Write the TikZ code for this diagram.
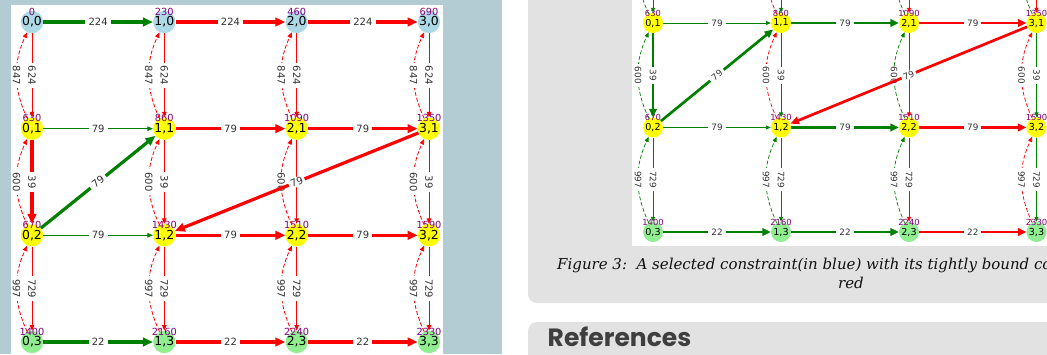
\documentclass[tikz,border=0pt]{standalone}
\usepackage{fontspec}
\usetikzlibrary{arrows.meta}
\newfontfamily\djv{DejaVu Sans}
\newfontfamily\capfont{DejaVu Serif}
\newfontfamily\popfont{Poppins}
\definecolor{bgblue}{HTML}{B3CCD3}
\definecolor{panelgray}{HTML}{E2E2E2}
\definecolor{nblue}{HTML}{ADD8E6}
\definecolor{nyellow}{HTML}{FFFF00}
\definecolor{ngreen}{HTML}{90EE90}
\definecolor{vpurple}{HTML}{800080}
\definecolor{egreen}{HTML}{008000}
\definecolor{ered}{HTML}{FF0000}
\definecolor{labgray}{HTML}{333333}
\definecolor{refgray}{HTML}{3F3F3F}
\definecolor{captext}{HTML}{111111}
\tikzset{
  lnode/.style={circle, minimum size=22pt, inner sep=0pt, draw=none, text=black, font=\djv\fontsize{12.4}{12.4}\selectfont},
  rnode/.style={circle, minimum size=20pt, inner sep=0pt, draw=none, text=black, font=\djv\fontsize{9.6}{9.6}\selectfont},
  lval/.style={inner sep=0pt, text=vpurple, font=\djv\fontsize{9.8}{9.8}\selectfont},
  rval/.style={inner sep=0pt, text=vpurple, font=\djv\fontsize{8.4}{8.4}\selectfont},
  llab/.style={fill=white, inner xsep=3.2pt, inner ysep=1.5pt, text=labgray, font=\djv\fontsize{10}{10}\selectfont},
  rlab/.style={fill=white, inner xsep=3pt, inner ysep=1.2pt, text=labgray, font=\djv\fontsize{8.8}{8.8}\selectfont},
  bigtip/.style={-{Triangle[length=10pt,width=8.5pt]}},
  smalltip/.style={-{Triangle[length=5.5pt,width=4.5pt]}},
  thickG/.style={draw=egreen, line width=3.2pt, bigtip},
  thickR/.style={draw=ered, line width=3.2pt, bigtip},
  thinG/.style={draw=egreen, line width=1pt, smalltip},
  thinR/.style={draw=ered, line width=1pt, smalltip},
  rthickG/.style={draw=egreen, line width=2.7pt, -{Triangle[length=8.5pt,width=7.5pt]}},
  rthickR/.style={draw=ered, line width=2.7pt, -{Triangle[length=8.5pt,width=7.5pt]}},
  rthinG/.style={draw=egreen, line width=0.9pt, -{Triangle[length=5pt,width=4pt]}},
  rthinR/.style={draw=ered, line width=0.9pt, -{Triangle[length=5pt,width=4pt]}},
  dashR/.style={draw=ered, line width=0.8pt, dash pattern=on 4pt off 2pt, smalltip},
  dashG/.style={draw=egreen, line width=0.8pt, dash pattern=on 4pt off 2pt, smalltip},
  rdashR/.style={draw=ered, line width=0.7pt, dash pattern=on 4pt off 2pt, -{Triangle[length=5pt,width=4pt]}},
  rdashG/.style={draw=egreen, line width=0.7pt, dash pattern=on 4pt off 2pt, -{Triangle[length=5pt,width=4pt]}},
}
\begin{document}
\begin{tikzpicture}[x=1pt,y=-1pt]
\useasboundingbox (0,0) rectangle (1047,354);
\clip (0,0) rectangle (1047,354);
% backgrounds
\fill[white] (0,0) rectangle (1047,354);
\fill[bgblue] (0,0) rectangle (502,354);
\fill[white] (11,5) rectangle (443,360);
\fill[panelgray, rounded corners=9pt] (528,-20) rectangle (1070,303);
\fill[panelgray, rounded corners=9pt] (528,322) rectangle (1070,380);
\fill[white] (632,-5) rectangle (1060,246);

% ---------------- left graph ----------------
\foreach \c/\x in {0/32,1/164.3,2/296.7,3/429}{
  \node[lnode, fill=nblue]   (L\c0) at (\x,22)    {\c,0};
  \node[lnode, fill=nyellow] (L\c1) at (\x,128.7) {\c,1};
  \node[lnode, fill=nyellow] (L\c2) at (\x,235.3) {\c,2};
  \node[lnode, fill=ngreen]  (L\c3) at (\x,342)   {\c,3};
}
\foreach \n/\v in {L00/0,L10/230,L20/460,L30/690,L01/630,L11/860,L21/1090,L31/1350,
                   L02/670,L12/1430,L22/1510,L32/1590,L03/1400,L13/2160,L23/2240,L33/2330}
  \node[lval] (v\n) at ([yshift=10.5pt]\n.center) {\v};

% horizontal
\draw[thickG] (L00) -- node[llab]{224} (L10);
\draw[thickR] (L10) -- node[llab]{224} (L20);
\draw[thickR] (L20) -- node[llab]{224} (L30);
\draw[thinG]  (L01) -- node[llab]{79} (L11);
\draw[thickR] (L11) -- node[llab]{79} (L21);
\draw[thickR] (L21) -- node[llab]{79} (L31);
\draw[thinG]  (L02) -- node[llab]{79} (L12);
\draw[thickR] (L12) -- node[llab]{79} (L22);
\draw[thickR] (L22) -- node[llab]{79} (L32);
\draw[thickG] (L03) -- node[llab]{22} (L13);
\draw[thickR] (L13) -- node[llab]{22} (L23);
\draw[thickR] (L23) -- node[llab]{22} (L33);
% vertical + curved
\foreach \c in {0,1,2,3}{
  \draw[thinR] (L\c0) -- node[llab, rotate=-90]{624} (L\c1);
  \draw[thinR] (L\c2) -- node[llab, rotate=-90]{729} (L\c3);
  \draw[dashR] (L\c1) to[bend left=25] node[llab, rotate=-90]{847} (L\c0);
  \draw[dashR] (L\c3) to[bend left=25] node[llab, rotate=-90]{997} (L\c2);
}
\foreach \c in {0,1,3}
  \draw[dashR] (L\c2) to[bend left=25] node[llab, rotate=-90]{600} (L\c1);
\draw[dashR] (L22) to[bend left=25] node[llab, rotate=-90, inner sep=0.5pt]{600} (L21);
\draw[thickR] (L01) -- node[llab, rotate=-90]{39} (L02);
\draw[thinR]  (L11) -- node[llab, rotate=-90]{39} (L12);
\draw[thinR]  (L21) -- (L22);
\draw[thinR]  (L31) -- node[llab, rotate=-90]{39} (L32);
% diagonals
\draw[thickG] (L02) -- node[llab, sloped]{79} (L11);
\draw[thickR] (L31) -- node[llab, sloped, inner xsep=2pt, inner ysep=1pt]{79} (L12);

% ---------------- right graph ----------------
\foreach \c/\x in {0/653,1/781,2/909,3/1036.5}{
  \node[rnode, fill=nblue]   (R\c0) at (\x,-81.5) {};
  \node[rnode, fill=nyellow] (R\c1) at (\x,23)    {\c,1};
  \node[rnode, fill=nyellow] (R\c2) at (\x,127.5) {\c,2};
  \node[rnode, fill=ngreen]  (R\c3) at (\x,232)   {\c,3};
}
\foreach \n/\v in {R01/630,R11/860,R21/1090,R31/1350,
                   R02/670,R12/1430,R22/1510,R32/1590,R03/1400,R13/2160,R23/2240,R33/2330}
  \node[rval] (v\n) at ([yshift=10pt]\n.center) {\v};

\draw[rthinG]  (R01) -- node[rlab]{79} (R11);
\draw[rthickG] (R11) -- node[rlab]{79} (R21);
\draw[rthickR] (R21) -- node[rlab]{79} (R31);
\draw[rthinG]  (R02) -- node[rlab]{79} (R12);
\draw[rthickG] (R12) -- node[rlab]{79} (R22);
\draw[rthickR] (R22) -- node[rlab]{79} (R32);
\draw[rthickG] (R03) -- node[rlab]{22} (R13);
\draw[rthickG] (R13) -- node[rlab]{22} (R23);
\draw[rthickR] (R23) -- node[rlab]{22} (R33);
% top (row 0 -> row 1), labels off the page
\draw[rthinG] (R00) -- (R01);
\draw[rthinG] (R10) -- (R11);
\draw[rthinR] (R20) -- (R21);
\draw[rthinR] (R30) -- (R31);
\draw[rdashG] (R01) to[bend left=25] (R00);
\draw[rdashR] (R11) to[bend left=25] (R10);
\draw[rdashG] (R21) to[bend left=25] (R20);
\draw[rdashG] (R31) to[bend left=25] (R30);
% row 1 -> row 2
\draw[rthickG] (R01) -- node[rlab, rotate=-90]{39} (R02);
\draw[rthinG]  (R11) -- node[rlab, rotate=-90]{39} (R12);
\draw[rthinR]  (R21) -- (R22);
\draw[rthinG]  (R31) -- node[rlab, rotate=-90]{39} (R32);
\draw[rdashG] (R02) to[bend left=25] node[rlab, rotate=-90]{600} (R01);
\draw[rdashR] (R12) to[bend left=25] node[rlab, rotate=-90]{600} (R11);
\draw[rdashG] (R22) to[bend left=25] node[rlab, rotate=-90, inner sep=0.5pt]{600} (R21);
\draw[rdashR] (R32) to[bend left=25] node[rlab, rotate=-90]{600} (R31);
% row 2 -> row 3
\draw[rthinG] (R02) -- node[rlab, rotate=-90]{729} (R03);
\draw[rthinG] (R12) -- node[rlab, rotate=-90]{729} (R13);
\draw[rthinR] (R22) -- node[rlab, rotate=-90]{729} (R23);
\draw[rthinG] (R32) -- node[rlab, rotate=-90]{729} (R33);
\draw[rdashG] (R03) to[bend left=25] node[rlab, rotate=-90]{997} (R02);
\draw[rdashG] (R13) to[bend left=25] node[rlab, rotate=-90]{997} (R12);
\draw[rdashG] (R23) to[bend left=25] node[rlab, rotate=-90]{997} (R22);
\draw[rdashR] (R33) to[bend left=25] node[rlab, rotate=-90]{997} (R32);
% diagonals
\draw[rthickG] (R02) -- node[rlab, sloped]{79} (R11);
\draw[rthickR] (R31) -- node[rlab, sloped, inner xsep=2pt, inner ysep=0.8pt]{79} (R12);

% caption and heading
\node[anchor=base west, inner sep=0pt, font=\capfont\itshape\fontsize{15}{15}\selectfont, text=captext]
  (cap1) at (557,269) {Figure 3:\ \ A selected constraint(in blue) with its tightly bound co};
\node[anchor=base, inner sep=0pt, font=\capfont\itshape\fontsize{15}{15}\selectfont, text=captext]
  (cap2) at (851,288) {red};
\node[anchor=base west, inner sep=0pt, font=\popfont\bfseries\fontsize{25}{25}\selectfont, text=refgray]
  (refs) at (547.5,346) {References};
\end{tikzpicture}
\end{document}
